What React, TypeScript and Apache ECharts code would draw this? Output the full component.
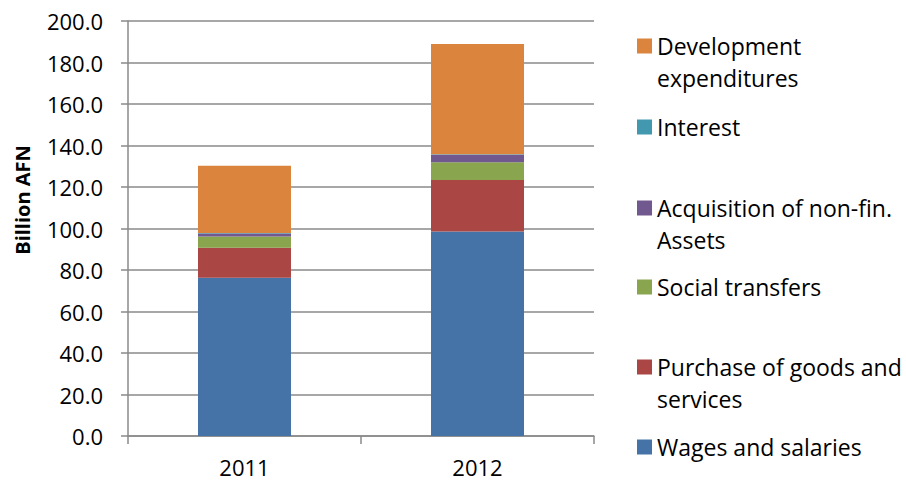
import React, { useEffect, useRef } from "react";
import * as echarts from "echarts";

const categories = ["2011", "2012"];
const seriesNames = [
  "Wages and salaries",
  "Purchase of goods and services",
  "Social transfers",
  "Acquisition of non-fin. Assets",
  "Interest",
  "Development expenditures",
];
const wages = [76.3, 98.5];
const purchase = [14.4, 24.9];
const social = [5.5, 8.5];
const acquisition = [1.4, 3.7];
const interest = [0.2, 0.2];
const development = [32.4, 53.1];
const yTicks = { min: 0, max: 200, interval: 20 };
const legendLabels = [
  "Development\nexpenditures",
  "Interest",
  "Acquisition of non-fin.\nAssets",
  "Social transfers",
  "Purchase of goods and\nservices",
  "Wages and salaries",
];
const legendSeries = [5, 4, 3, 2, 1, 0];

const colors = ["#4572A7", "#AA4643", "#89A54E", "#71588F", "#4198AF", "#DB843D"];
const FONT = "'Open Sans', sans-serif";
const LINE = "#8a8a8a";

export default function App() {
  const ref = useRef<HTMLDivElement>(null);
  useEffect(() => {
    document.body.style.margin = "0";
    if (!ref.current) return;
    const chart = echarts.init(ref.current, null, { renderer: "svg" });
    const values = [wages, purchase, social, acquisition, interest, development];
    const iconCenters = [46, 127, 208, 287, 367, 447];
    const LH = 32;
    const legends = legendSeries.map((si, i) => {
      const twoLine = legendLabels[i].includes("\n");
      const iconTop = iconCenters[i] - 7.5;
      return {
        show: true,
        data: [seriesNames[si]],
        orient: "vertical",
        left: 637,
        top: twoLine ? iconTop - (1.5 * LH - 7.5) : iconTop - (LH / 2 - 7.5),
        padding: 0,
        itemWidth: 15,
        itemHeight: 15,
        icon: "rect",
        selectedMode: false,
        // a leading blank line keeps the first line level with the icon
        formatter: () => (twoLine ? "\n" + legendLabels[i] : legendLabels[i]),
        textStyle: {
          fontFamily: FONT,
          fontSize: 23,
          color: "#000",
          lineHeight: LH,
        },
      };
    });
    chart.setOption({
      animation: false,
      color: colors,
      grid: { left: 128, right: 312, top: 21, bottom: 46, containLabel: false },
      legend: legends,
      xAxis: {
        type: "category",
        data: categories,
        axisLine: { show: true, lineStyle: { color: LINE, width: 1.5 } },
        axisTick: { show: true, length: 8, lineStyle: { color: LINE, width: 1.5 } },
        axisLabel: { fontFamily: FONT, fontSize: 22, color: "#000", margin: 20 },
      },
      yAxis: {
        type: "value",
        min: yTicks.min,
        max: yTicks.max,
        interval: yTicks.interval,
        axisLine: { show: true, lineStyle: { color: LINE, width: 1.5 } },
        axisTick: { show: true, length: 7, lineStyle: { color: LINE, width: 1.5 } },
        axisLabel: {
          fontFamily: FONT,
          fontSize: 22,
          color: "#000",
          margin: 25,
          formatter: (v: number) => v.toFixed(1),
        },
        splitLine: { show: true, lineStyle: { color: LINE, width: 1.5 } },
      },
      graphic: [
        {
          type: "text",
          x: 22,
          y: 200,
          rotation: Math.PI / 2,
          style: {
            text: "Billion AFN",
            font: `bold 20px ${FONT}`,
            fill: "#000",
            align: "center",
            verticalAlign: "middle",
          },
        },
      ],
      series: seriesNames.map((name, i) => ({
        name,
        type: "bar",
        stack: "total",
        barWidth: 93,
        data: values[i],
        itemStyle: { color: colors[i] },
      })),
    });
    return () => chart.dispose();
  }, []);
  return <div ref={ref} style={{ width: 906, height: 482 }} />;
}
